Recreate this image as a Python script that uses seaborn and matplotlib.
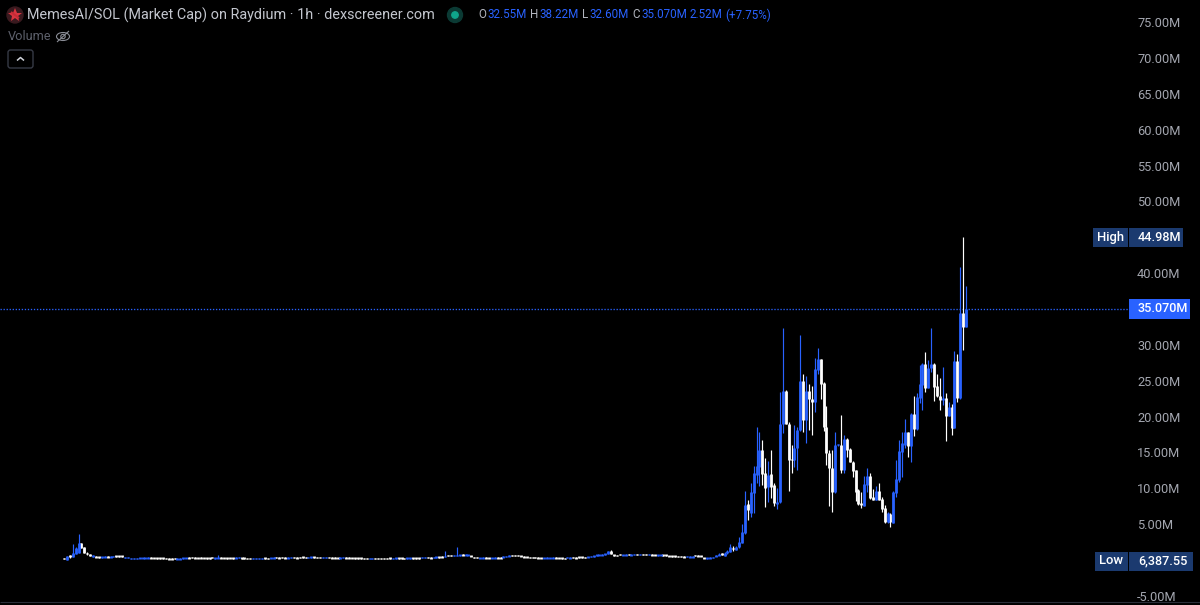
import numpy as np
import pandas as pd
import matplotlib
matplotlib.use("Agg")
import matplotlib.pyplot as plt
import seaborn as sns
from matplotlib.patches import Circle, Ellipse, FancyBboxPatch, Rectangle

# premiere bosse (10 bougies) puis plateau puis partie active
start_opens = [.25, .00, .60, .45, .85, 1.00, 2.35, 1.80, 1.00, .80, .45]
start_closes = [.15, .55, .50, 1.00, 1.70, 2.35, 1.70, 1.00, .80, .55, .60]
start_highs = [.30, .60, .75, 2.20, 1.80, 3.60, 2.40, 1.85, 1.05, .85, .65]
start_lows = [.10, -.05, .30, .40, .80, .95, 1.65, .95, .75, .50, .40]

flat_opens = [
    .50, .48, .34, .36, .50, .36, .40, .60, .62, .60,
    .28, .30, .14, .12, .14, .22, .24, .22, .24, .36,
    .34, .32, .32, .30, .24, .22, .22, .24, .10, .12,
    .20, .22, .36, .38, .36, .34, .36, .34, .32, .30,
    .38, .20, .22, .36, .34, .32, .34, .32, .24, .26,
    .30, .30, .28, .26, .14, .16, .14, .16, .30, .28,
    .22, .24, .38, .36, .38, .36, .24, .26, .38, .36,
    .42, .44, .42, .30, .32, .44, .42, .40, .28, .30,
    .38, .36, .36, .34, .24, .26, .36, .36, .34, .32,
    .30, .30, .28, .28, .14, .16, .28, .28, .26, .26,
    .28, .30, .16, .18, .30, .30, .28, .18, .20, .32,
    .32, .30, .26, .28, .38, .36, .30, .34, .46, .50,
    .42, .66, .70, .58, .56, .62, .78, .66, .64, .62,
    .42, .40, .22, .24, .36, .34, .22, .24, .36, .36,
    .38, .40, .52, .70, .68, .66, .62, .50, .48, .40,
    .40, .38, .36, .34, .22, .24, .22, .24, .36, .34,
    .30, .28, .26, .24, .38, .36, .46, .44, .42, .36,
    .42, .46, .62, .64, .66, .76, .84, 1.25, .72, .70,
    .82, .64, .66, .80, .66, .68, .84, .70, .82, .80,
    .70, .78, .76, .62, .64, .74, .72, .62, .60, .58,
    .56, .54, .50, .40, .38, .38, .66, .64, .62, .34,
    .18, .24, .26, .52, .66,
]
flat_closes = [
    .36, .34, .48, .50, .38, .50, .54, .46, .48, .46,
    .40, .42, .26, .24, .26, .34, .34, .34, .36, .26,
    .22, .20, .20, .18, .12, .12, .12, .12, .22, .22,
    .32, .34, .24, .26, .24, .22, .24, .22, .20, .18,
    .26, .32, .34, .24, .22, .20, .22, .20, .36, .38,
    .18, .18, .16, .14, .26, .28, .26, .28, .18, .16,
    .34, .36, .26, .24, .26, .24, .36, .38, .26, .24,
    .30, .32, .30, .42, .44, .32, .30, .28, .40, .42,
    .26, .24, .24, .22, .36, .38, .24, .24, .22, .20,
    .18, .18, .16, .16, .26, .28, .16, .16, .14, .14,
    .16, .18, .28, .30, .18, .18, .16, .30, .32, .20,
    .20, .18, .38, .40, .26, .24, .42, .46, .34, .38,
    .60, .54, .58, .70, .68, .74, .66, .78, .76, .50,
    .30, .28, .34, .36, .24, .22, .34, .36, .24, .24,
    .50, .52, .64, .58, .56, .54, .50, .38, .36, .28,
    .28, .26, .24, .22, .34, .36, .34, .36, .24, .22,
    .18, .16, .38, .36, .26, .24, .34, .32, .30, .48,
    .54, .58, .74, .76, .78, .88, 1.25, .84, .60, .58,
    .70, .76, .78, .68, .78, .80, .72, .82, .70, .68,
    .82, .66, .64, .74, .76, .62, .60, .50, .48, .46,
    .44, .42, .38, .52, .50, .50, .54, .52, .50, .22,
    .30, .36, .38, .64, .78,
]
# meches visibles sur le plateau : rang de la bougie, plus haut
spike_ranks = [42, 120, 124, 170, 177, 214]
spike_highs = [.72, 1.30, 1.85, .60, 1.45, 1.0]

active_opens = [
    .90, .55, .95, 1.15, 1.70, 1.40, 1.75, 2.40, 3.70, 7.75,
    6.50, 9.30, 11.85, 13.00, 15.30, 12.10, 10.20, 11.95, 10.40, 7.80,
    8.10, 19.00, 23.60, 19.00, 14.05, 13.95, 15.60, 18.10, 25.00, 19.50,
    23.60, 22.50, 22.10, 26.50, 28.00, 24.70, 18.60, 14.90, 12.80, 9.50,
    16.05, 16.10, 12.50, 16.90,
    15.50, 13.70, 12.55, 9.75, 7.85, 7.60, 10.50, 11.75, 8.75, 8.40,
    9.65, 8.50, 7.20, 5.25, 6.40, 5.20, 9.30, 11.15, 15.10, 16.05,
    17.80, 15.95, 20.30, 18.25, 22.65, 24.40, 27.40, 24.05, 26.80, 27.40,
    24.25, 22.85, 22.30, 22.65, 20.15, 21.40, 18.45, 27.75, 22.65, 34.40,
    32.55,
]
active_closes = [
    .75, 1.00, 1.30, 1.85, 1.55, 1.85, 2.55, 3.85, 7.65, 7.00,
    9.50, 12.10, 13.10, 15.30, 12.00, 10.10, 11.85, 10.20, 7.90, 8.15,
    19.00, 23.60, 19.00, 13.95, 13.95, 15.60, 18.20, 25.00, 19.50, 23.60,
    22.50, 22.10, 26.70, 28.00, 24.60, 18.60, 14.90, 12.80, 9.50, 16.10,
    16.15, 12.55, 16.90, 15.30,
    13.70, 12.45, 9.50, 7.75, 7.70, 10.55, 11.75, 8.60, 8.35, 9.65,
    8.35, 7.10, 5.25, 6.50, 5.25, 9.55, 11.30, 15.20, 16.30, 17.80,
    15.95, 20.30, 18.25, 22.80, 24.50, 27.40, 24.05, 26.80, 27.40, 24.15,
    22.85, 22.30, 22.65, 20.15, 21.40, 18.45, 27.75, 22.65, 34.40, 32.55,
    35.07,
]
active_highs = [
    1.00, 1.05, 1.35, 2.20, 2.00, 1.90, 3.15, 5.00, 9.60, 8.35,
    10.80, 13.10, 18.50, 17.90, 16.70, 14.20, 13.85, 15.30, 10.80, 10.10,
    23.40, 32.30, 23.70, 19.20, 16.10, 18.80, 18.50, 31.40, 25.90, 25.60,
    24.60, 24.20, 28.20, 29.60, 28.10, 24.80, 21.50, 15.40, 15.30, 17.80,
    16.20, 20.20, 17.40, 17.00,
    15.60, 13.80, 12.60, 9.90, 9.50, 11.75, 12.80, 12.20, 9.90, 10.35,
    10.80, 8.85, 7.65, 6.75, 6.50, 9.60, 13.95, 16.75, 17.80, 19.65,
    17.90, 20.50, 22.90, 23.35, 27.20, 27.50, 29.05, 27.90, 32.30, 27.50,
    25.90, 25.40, 26.95, 23.25, 22.10, 21.70, 29.15, 28.70, 40.90, 44.98,
    38.22,
]
active_lows = [
    .70, .50, .90, 1.10, 1.30, 1.35, 1.70, 2.35, 3.60, 5.60,
    6.00, 6.60, 10.70, 10.30, 10.50, 7.40, 8.10, 8.60, 7.50, 7.10,
    7.90, 17.70, 18.90, 9.60, 12.20, 13.00, 12.60, 18.00, 17.90, 16.30,
    18.10, 17.40, 20.70, 25.90, 22.50, 18.00, 13.20, 7.50, 6.70, 9.30,
    15.90, 12.20, 12.20, 14.30,
    13.60, 11.60, 8.20, 7.70, 7.20, 7.50, 9.50, 8.50, 8.30, 8.30,
    8.30, 6.65, 5.15, 5.20, 4.65, 5.15, 8.85, 10.90, 11.60, 15.60,
    14.30, 13.70, 17.35, 18.20, 21.85, 20.90, 23.50, 24.00, 26.25, 22.20,
    22.80, 20.90, 21.60, 16.60, 20.10, 17.45, 18.40, 22.10, 22.50, 29.30,
    32.55,
]

price_ticks = [-5, 5, 10, 15, 20, 25, 30, 35, 40, 45, 50, 55, 60, 65, 70, 75]
price_labels = ["-5.00M", "5.00M", "10.00M", "15.00M", "20.00M", "25.00M", "30.00M", "",
                "40.00M", "", "50.00M", "55.00M", "60.00M", "65.00M", "70.00M", "75.00M"]
last_price = 35.07

title_text = "MemesAI/SOL (Market Cap) on Raydium · 1h · dexscreener.com"
ohlc_parts = [("O", 478, "#b2b5be"), ("32.55M", 487, "#2962ff"),
              ("H", 530, "#b2b5be"), ("38.22M", 539, "#2962ff"),
              ("L", 582, "#b2b5be"), ("32.60M", 589, "#2962ff"),
              ("C", 632, "#b2b5be"), ("35.070M", 641, "#2962ff"),
              ("2.52M", 690, "#2962ff"), ("(+7.75%)", 725, "#2962ff")]

BLUE = "#2962ff"
NAVY = "#1b3a6f"
GREY = "#a3a6af"
W, H = 1200, 605
PX_PER_CANDLE = 2.91
FIRST_PX = 64
MIN_BODY = 0.22  # hauteur mini d'un corps, moins de 2 px comme sur le graphique

sns.set_theme(style="dark")
plt.rcParams["font.family"] = ["Roboto", "DejaVu Sans"]
plt.rcParams["lines.solid_capstyle"] = "butt"

# assemblage des bougies
opens = start_opens + flat_opens + active_opens
closes = start_closes + flat_closes + active_closes
flat_highs = [max(o, c) for o, c in zip(flat_opens, flat_closes)]
flat_lows = [min(o, c) for o, c in zip(flat_opens, flat_closes)]
for rank, high in zip(spike_ranks, spike_highs):
    flat_highs[rank] = high
highs = start_highs + flat_highs + active_highs
lows = start_lows + flat_lows + active_lows

candles = pd.DataFrame({"i": np.arange(len(opens)), "open": opens, "close": closes,
                        "high": highs, "low": lows})
candles["sens"] = np.where(candles["close"] >= candles["open"], "up", "down")
mid = (candles["open"] + candles["close"]) / 2
half = ((candles["close"] - candles["open"]).abs() / 2).clip(lower=MIN_BODY / 2)
candles["body_top"] = mid + half
candles["body_bottom"] = mid - half

wicks = candles.melt(id_vars=["i", "sens"], value_vars=["high", "low"], value_name="price")
bodies = candles.melt(id_vars=["i", "sens"], value_vars=["body_top", "body_bottom"], value_name="price")
palette = {"up": BLUE, "down": "#ffffff"}

fig = plt.figure(figsize=(W / 100, H / 100), dpi=100, facecolor="black")
ax = fig.add_axes([0, 3 / H, 1128 / W, 602 / H], facecolor="black")

ax.axhline(last_price, color=BLUE, lw=0.95, ls=(0, (1, 1.3)), dash_capstyle="butt", zorder=1)
sns.lineplot(data=wicks, x="i", y="price", units="i", hue="sens", palette=palette, estimator=None,
             sort=False, legend=False, lw=0.85, zorder=2, ax=ax)
sns.lineplot(data=bodies, x="i", y="price", units="i", hue="sens", palette=palette, estimator=None,
             sort=False, legend=False, lw=2.0, zorder=3, ax=ax)

ax.set_xlim(-FIRST_PX / PX_PER_CANDLE, (1128 - FIRST_PX) / PX_PER_CANDLE)
ax.set_ylim((560 - 602) / 7.17, 560 / 7.17)
ax.set_xlabel("")
ax.set_ylabel("")
ax.set_xticks([])
ax.yaxis.tick_right()
ax.set_yticks(price_ticks)
ax.set_yticklabels(price_labels)
ax.tick_params(axis="y", length=0, pad=6.5, colors=GREY, labelsize=9.2)
ax.grid(False)
for name, spine in ax.spines.items():
    spine.set_visible(False)

# calque en pixels pour l'entete et les etiquettes de prix
top = fig.add_axes([0, 0, 1, 1], facecolor="none")
top.set_xlim(0, W)
top.set_ylim(H, 0)
top.axis("off")
top.plot([0, W], [602, 602], color="#2a2e39", lw=0.8)

top.add_patch(Circle((15, 15), 8, color="#3a1a1f"))
top.plot([15], [15], marker="*", ms=10, color="#d8343f", mew=0)
top.plot([11, 19], [12, 18], color="#c42b36", lw=1.4)
top.text(27, 15, title_text, color="#c3c6ce", fontsize=10.35, va="center", ha="left")
top.add_patch(Circle((455, 15), 7.5, color="#0b3a34"))
top.add_patch(Circle((455, 15), 3.2, color="#0fa58b"))
for txt, x, col in ohlc_parts:
    top.text(x, 15, txt, color=col, fontsize=8.4, va="center", ha="left")

top.text(8, 36.5, "Volume", color="#5d606b", fontsize=9.2, va="center", ha="left")
top.add_patch(Ellipse((63, 36.5), 13, 8, fill=False, ec="#8a8d96", lw=0.8))
top.add_patch(Circle((63, 36.5), 2.2, fill=False, ec="#8a8d96", lw=0.8))
top.plot([57, 69], [42, 31], color="#8a8d96", lw=0.8)
top.add_patch(FancyBboxPatch((8, 50), 25, 18, boxstyle="round,pad=0,rounding_size=2.5",
                             fill=False, ec="#363a45", lw=1))
top.plot([17, 20.5, 24], [60.5, 57.5, 60.5], color="#d1d4dc", lw=1.1)

# etiquettes High / Low / dernier prix
top.add_patch(Rectangle((1093, 228), 35, 19, color=NAVY, lw=0))
top.add_patch(Rectangle((1129, 228), 54, 19, color=NAVY, lw=0))
top.text(1110.5, 237.5, "High", color="white", fontsize=9.4, weight="medium", va="center", ha="center")
top.text(1138, 237.5, "44.98M", color="white", fontsize=9.1, weight="medium", va="center", ha="left")
top.add_patch(Rectangle((1129, 299), 61, 19.5, color=BLUE, lw=0))
top.text(1138, 309, "35.070M", color="white", fontsize=9.1, weight="medium", va="center", ha="left")
top.add_patch(Rectangle((1095, 552), 33, 18.5, color=NAVY, lw=0))
top.add_patch(Rectangle((1129, 552), 64, 18.5, color=NAVY, lw=0))
top.text(1111.5, 561, "Low", color="white", fontsize=9.4, weight="medium", va="center", ha="center")
top.text(1138, 561, "6,387.55", color="white", fontsize=9.1, weight="medium", va="center", ha="left")

fig.savefig("out.png", dpi=100, facecolor="black")
